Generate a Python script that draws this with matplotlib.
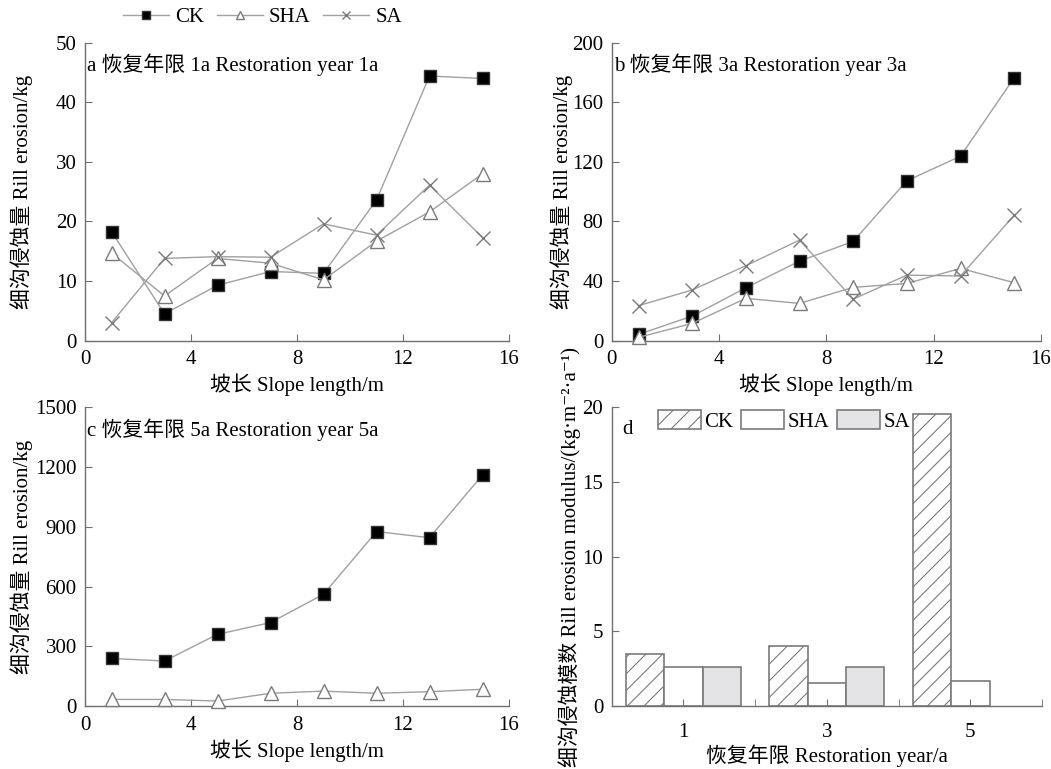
import matplotlib
matplotlib.use("Agg")
import matplotlib.pyplot as plt
import numpy as np

plt.rcParams['font.family'] = ['Liberation Serif', 'Noto Sans CJK SC', 'DejaVu Serif']
plt.rcParams['hatch.color'] = '#909090'
plt.rcParams['hatch.linewidth'] = 0.8

slope = [1, 3, 5, 7, 9, 11, 13, 15]

ck_1a = [18.3, 4.5, 9.3, 11.6, 11.3, 23.6, 44.4, 44.0]
sha_1a = [14.7, 7.5, 13.8, 13.0, 10.2, 16.7, 21.6, 28.0]
sa_1a = [3.0, 13.8, 14.1, 14.0, 19.6, 17.7, 26.1, 17.3]

ck_3a = [4.2, 16.5, 35.5, 53.4, 66.6, 107.3, 123.8, 176.5]
sha_3a = [2.2, 11.6, 28.4, 25.0, 35.8, 38.4, 48.5, 38.9]
sa_3a = [23.5, 34.0, 50.3, 67.5, 27.9, 44.0, 43.4, 84.2]

ck_5a = [239, 226, 360, 419, 561, 876, 845, 1160]
sha_5a = [33, 33, 25, 64, 75, 64, 72, 84]

years = ['1', '3', '5']
mod_ck = [3.46, 4.02, 19.53]
mod_sha = [2.59, 1.52, 1.70]
mod_sa = [2.59, 2.59, 0.0]

FS = 15
LINE = '#a0a0a0'
EDGE = '#7a7a7a'

fig = plt.figure(figsize=(10.51, 7.69), dpi=100)
ax_a = fig.add_axes([0.0809, 0.557, 0.4034, 0.3875])
ax_b = fig.add_axes([0.582, 0.557, 0.4085, 0.3875])
ax_c = fig.add_axes([0.0809, 0.0819, 0.4034, 0.3885])
ax_d = fig.add_axes([0.582, 0.0819, 0.4095, 0.3885])


def style(ax):
    for s in ['top', 'right']:
        ax.spines[s].set_visible(False)
    for s in ['left', 'bottom']:
        ax.spines[s].set_color('#707070')
        ax.spines[s].set_linewidth(1.0)
    ax.tick_params(direction='in', length=5, color='#707070', labelsize=FS)
    ax.tick_params(axis='x', pad=7)
    ax.tick_params(axis='y', pad=6)


def line_panel(ax, ck, sha, sa, ymax, yticks, label, ylab_x):
    h1, = ax.plot(slope, ck, color=LINE, lw=1.0, marker='s', ms=8.5,
                  mfc='black', mec='#333333', label='CK', zorder=3)
    h2, = ax.plot(slope, sha, color=LINE, lw=1.0, marker='^', ms=9.5,
                  mfc='white', mec=EDGE, mew=1.0, label='SHA', zorder=3)
    h3 = None
    if sa is not None:
        h3, = ax.plot(slope, sa, color=LINE, lw=1.0, marker='x', ms=10,
                      mec=EDGE, mew=1.0, label='SA', zorder=3)
    ax.set_xlim(0, 16)
    ax.set_ylim(0, ymax)
    ax.set_xticks([0, 4, 8, 12, 16])
    ax.set_yticks(yticks)
    ax.set_xlabel('坡长 Slope length/m', fontsize=FS, labelpad=3)
    ax.set_ylabel('细沟侵蚀量 Rill erosion/kg', fontsize=FS)
    ax.yaxis.set_label_coords(ylab_x, 0.5)
    ax.text(0.005, 0.925, label, transform=ax.transAxes, fontsize=FS,
            va='center', ha='left')
    style(ax)
    for l in ax.lines:
        l.set_clip_on(False)
    return h1, h2, h3


h1, h2, h3 = line_panel(ax_a, ck_1a, sha_1a, sa_1a, 50, [0, 10, 20, 30, 40, 50],
                        'a 恢复年限 1a Restoration year 1a', -0.123)
line_panel(ax_b, ck_3a, sha_3a, sa_3a, 200, [0, 40, 80, 120, 160, 200],
           'b 恢复年限 3a Restoration year 3a', -0.090)
line_panel(ax_c, ck_5a, sha_5a, None, 1500, [0, 300, 600, 900, 1200, 1500],
           'c 恢复年限 5a Restoration year 5a', -0.123)

fig.legend(handles=[h1, h2, h3], labels=['CK', 'SHA', 'SA'], loc='center',
           bbox_to_anchor=(0.2498, 0.977), ncol=3, frameon=False, fontsize=FS,
           handlelength=2.2, handletextpad=0.3, columnspacing=0.6,
           markerscale=0.6, borderpad=0)

# panel d
x = np.arange(len(years))
w = 0.2674
b1 = ax_d.bar(x - w, mod_ck, w, color='white', edgecolor=EDGE, hatch='//',
              lw=1.2, label='CK')
b2 = ax_d.bar(x, mod_sha, w, color='white', edgecolor=EDGE, lw=1.2, label='SHA')
sa_vals = [v if v > 0 else np.nan for v in mod_sa]
b3 = ax_d.bar(x + w, sa_vals, w, color='#e4e4e6', edgecolor=EDGE, lw=1.2,
              label='SA')
ax_d.set_xlim(-0.5, 2.5)
ax_d.set_ylim(0, 20)
ax_d.set_yticks([0, 5, 10, 15, 20])
ax_d.set_xticks(x)
ax_d.set_xticklabels(years)
ax_d.set_xticks([0.5, 1.5, 2.5], minor=True)
style(ax_d)
ax_d.tick_params(axis='x', which='both', direction='in', length=5,
                 color='#707070', pad=12)
ax_d.set_xlabel('恢复年限 Restoration year/a', fontsize=FS, labelpad=2)
ax_d.set_ylabel('细沟侵蚀模数 Rill erosion modulus/(kg·m⁻²·a⁻¹)', fontsize=FS)
ax_d.yaxis.set_label_coords(-0.071, 0.5)
ax_d.text(0.025, 0.925, 'd', transform=ax_d.transAxes, fontsize=FS,
          va='center', ha='left')
ax_d.legend(handles=[b1, b2, b3], loc='upper center', bbox_to_anchor=(0.4, 0.99),
            ncol=3, frameon=False, fontsize=FS, handlelength=2.1,
            handleheight=1.0, handletextpad=0.15, columnspacing=0.35,
            borderpad=0, borderaxespad=0)

fig.savefig('out.png', dpi=100)
